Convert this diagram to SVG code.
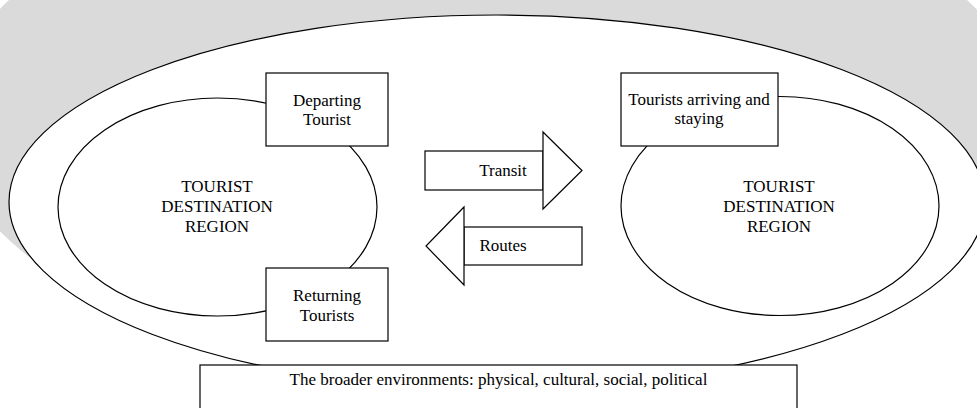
<svg xmlns="http://www.w3.org/2000/svg" width="977" height="408" viewBox="0 0 977 408">
<style>
.ln{fill:#fff;stroke:#000;stroke-width:1.2}
.t{font-family:'Liberation Serif','Times New Roman',serif;font-size:17px;fill:#000;text-anchor:middle}
</style>
<rect width="977" height="408" fill="#fff"/>
<ellipse cx="488" cy="120" rx="540" ry="260" fill="#dadada"/>
<g id="environment">
<ellipse class="ln" cx="497" cy="202" rx="488" ry="187"/>
</g>
<g id="region-left" font-family="Liberation Serif, serif">
<ellipse class="ln" cx="217.5" cy="207" rx="159.5" ry="109"/>
<text class="t" x="217" y="192">TOURIST</text>
<text class="t" x="217" y="212">DESTINATION</text>
<text class="t" x="217" y="232">REGION</text>
</g>
<g id="region-right" font-family="Liberation Serif, serif">
<ellipse class="ln" cx="780" cy="206" rx="159" ry="109.5"/>
<text class="t" x="779" y="192">TOURIST</text>
<text class="t" x="779" y="212">DESTINATION</text>
<text class="t" x="779" y="232">REGION</text>
</g>
<g id="departing" font-family="Liberation Serif, serif">
<rect class="ln" x="266" y="73" width="122" height="73"/>
<text class="t" x="327" y="106">Departing</text>
<text class="t" x="327" y="125">Tourist</text>
</g>
<g id="returning" font-family="Liberation Serif, serif">
<rect class="ln" x="266" y="268" width="122" height="73"/>
<text class="t" x="327" y="301">Returning</text>
<text class="t" x="327" y="321">Tourists</text>
</g>
<g id="arriving" font-family="Liberation Serif, serif">
<rect class="ln" x="621" y="73" width="157" height="73"/>
<text class="t" x="699" y="105">Tourists arriving and</text>
<text class="t" x="699" y="124">staying</text>
</g>
<g id="connectors" font-family="Liberation Serif, serif">
<g id="transit">
<rect class="ln" x="425" y="151" width="118" height="39"/>
<polygon class="ln" points="543,132 582,170.5 543,209"/>
<text class="t" x="503" y="176">Transit</text>
</g>
<g id="routes">
<rect class="ln" x="464" y="227" width="118" height="38"/>
<polygon class="ln" points="464,207 426,246 464,285"/>
<text class="t" x="503" y="251">Routes</text>
</g>
</g>
<g id="broader" font-family="Liberation Serif, serif">
<rect class="ln" x="200" y="365" width="597" height="60"/>
<text class="t" x="498.5" y="385">The broader environments: physical, cultural, social, political</text>
</g>
</svg>
